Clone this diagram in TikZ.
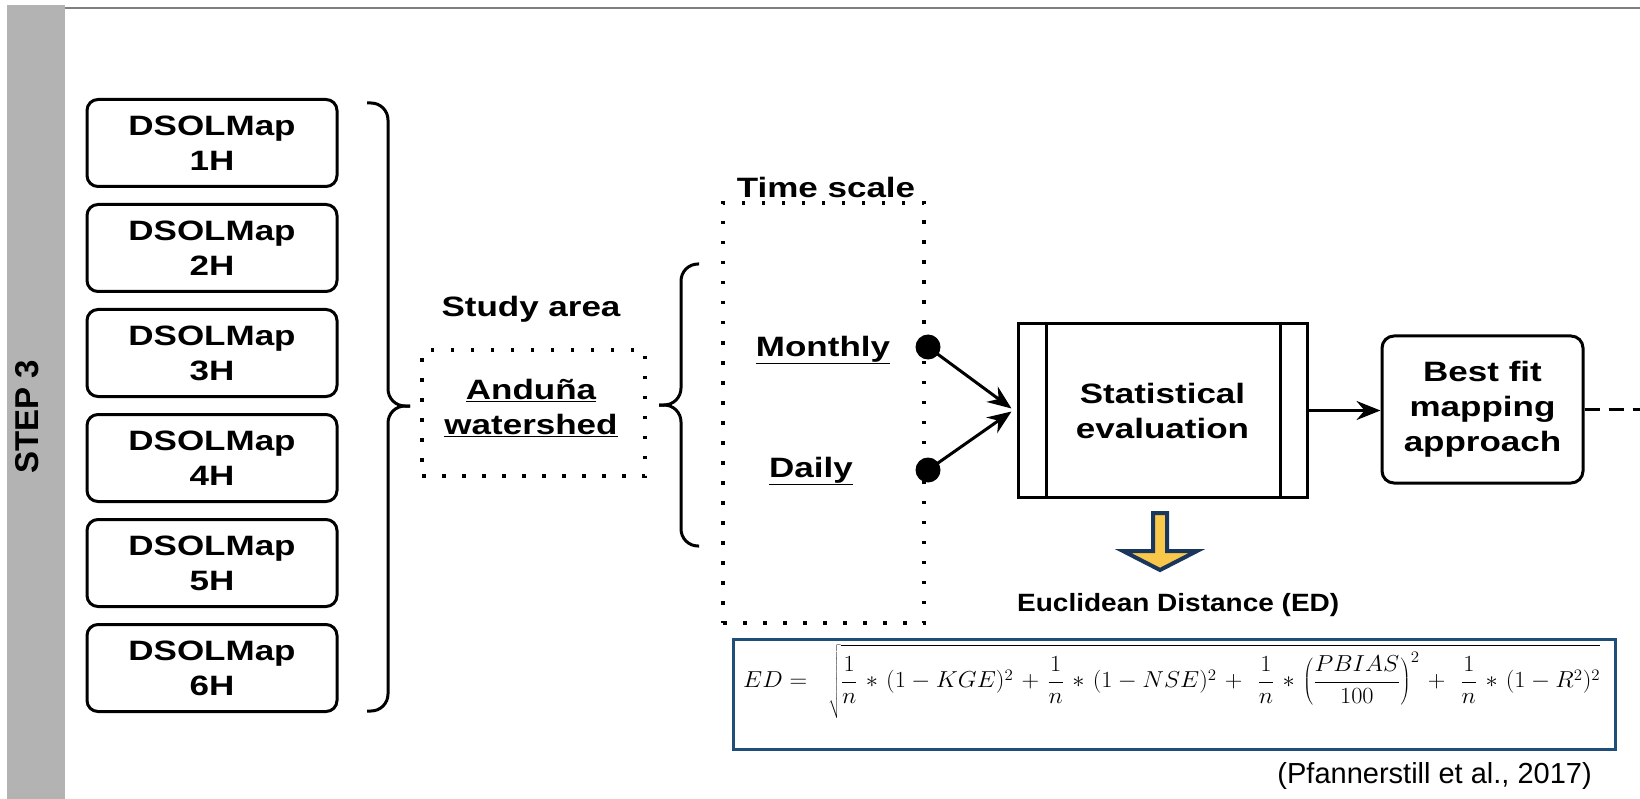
\documentclass[tikz,border=0pt]{standalone}
\usepackage[no-math]{fontspec}
\setmainfont{Liberation Sans}
\newfontfamily\boxfont[FakeStretch=1.25]{Liberation Sans}
\newfontfamily\capfont[FakeStretch=1.12]{Liberation Sans}
\usetikzlibrary{arrows.meta}
\definecolor{sidebar}{HTML}{B3B3B3}
\definecolor{rulegray}{HTML}{7F7F7F}
\definecolor{frameblue}{HTML}{1F4E79}
\definecolor{arrownavy}{HTML}{1B365D}
\definecolor{arrowgold}{HTML}{F9C84A}
\newcommand{\ttimes}{\mkern2mu*\mkern2mu}
\newcommand{\tplus}{\mkern2mu+\mkern2mu}
\begin{document}
\begin{tikzpicture}[x=1pt,y=-1pt,
  every node/.style={inner sep=0pt},
  boxtext/.style={font=\boxfont\bfseries\fontsize{28}{35}\selectfont, align=center},
  dsolbox/.style={boxtext, draw, line width=3pt, rounded corners=11pt,
    minimum width=250pt, minimum height=87pt},
  procbox/.style={boxtext, draw, line width=3pt,
    minimum width=289pt, minimum height=173pt},
  termbox/.style={boxtext, draw, line width=3pt, rounded corners=12pt,
    minimum width=201pt, minimum height=147pt},
  dotbox/.style={draw, line width=3.5pt, dash pattern=on 3.5pt off 16.5pt},
  bracestroke/.style={line width=3pt, rounded corners=17pt},
  link/.style={line width=3pt, -{Stealth[length=24pt,width=19pt,inset=8pt]}},
  endpoint/.style={circle, fill=black, minimum size=25pt},
]
\useasboundingbox (0,0) rectangle (1640,799);

% side band and top rule
\fill[sidebar] (7,5) rectangle (65,799);
\draw[rulegray, line width=2pt] (65,8) -- (1640,8);
\node[rotate=90, font=\bfseries\fontsize{33}{33}\selectfont] (step) at (27,417) {STEP 3};

% the six DSOLMap variants
\foreach \i in {1,...,6}
  \node[dsolbox] (d\i) at (212,{143+105*(\i-1)}) {DSOLMap\\\i H};

% brace gathering the variants
\draw[bracestroke] (367,103) -- (388,103) -- (388,406) -- (410,406);
\draw[bracestroke] (367,711) -- (388,711) -- (388,406) -- (410,406);

% study area
\node[boxtext] (studylbl) at (531,309) {Study area};
\node[dotbox, minimum width=223pt, minimum height=126pt] (area) at (533.5,413) {};
\node[boxtext] (areatxt) at (531,408) {\underline{Anduña}\\\underline{watershed}};

% brace opening to the time scales
\draw[bracestroke] (699,264) -- (681,264) -- (681,405) -- (659,405);
\draw[bracestroke] (699,546) -- (681,546) -- (681,405) -- (659,405);

% time scale
\node[boxtext] (timelbl) at (826,187) {Time scale};
\node[dotbox, minimum width=201pt, minimum height=420pt] (time) at (823.5,413) {};
\node[boxtext] (monthly) at (823,350) {\underline{Monthly}};
\node[boxtext] (daily) at (811,471) {\underline{Daily}};
\node[endpoint] (mdot) at (928,347) {};
\node[endpoint] (ddot) at (928,470) {};

% evaluation and result
\node[procbox] (stat) at (1162.5,410.5) {Statistical\\evaluation};
\draw[line width=3pt] ([xshift=30pt]stat.north west) -- ([xshift=30pt]stat.south west);
\draw[line width=3pt] ([xshift=-28pt]stat.north east) -- ([xshift=-28pt]stat.south east);
\node[termbox] (best) at (1482.5,409.5) {Best fit\\mapping\\approach};
\coordinate (rightedge) at (1640,409.5);

\draw[link] (mdot.center) -- ([xshift=-5pt,yshift=2pt]stat.west);
\draw[link] (ddot.center) -- ([xshift=-5pt,yshift=-1pt]stat.west);
\draw[link] (stat.east) -- (stat.east -| best.west);
\draw[line width=3pt, dash pattern=on 15pt off 9pt] (best.east) -- (rightedge);

% block arrow down to the distance measure
\draw[arrownavy, fill=arrowgold, line width=4pt]
  (1153,513) -- (1167,513) -- (1167,551) -- (1197,551) -- (1160,570)
  -- (1123,551) -- (1153,551) -- cycle;

\node[anchor=west, font=\capfont\bfseries\fontsize{25}{25}\selectfont] (edlbl) at (1017,605) {Euclidean Distance (ED)};
\node[draw=frameblue, line width=3pt, minimum width=882pt, minimum height=110pt] (edframe) at (1174,694) {};
\node[anchor=west] (edformula) at (743,682) {\resizebox*{857pt}{74pt}{\fontsize{22}{27}\selectfont$\displaystyle
  ED =\ \ \sqrt{\rule[-1.25em]{0pt}{2.8em}\frac{1}{n}\ttimes(1-KGE)^2\tplus\frac{1}{n}\ttimes(1-NSE)^2\tplus\;\frac{1}{n}\ttimes\left(\frac{PBIAS}{100}\right)^{2}\tplus\;\frac{1}{n}\ttimes(1-R^2)^2}$}};
\node[anchor=east, font=\fontsize{29}{29}\selectfont] (cite) at (1592,776) {(Pfannerstill et al., 2017)};
\end{tikzpicture}
\end{document}
